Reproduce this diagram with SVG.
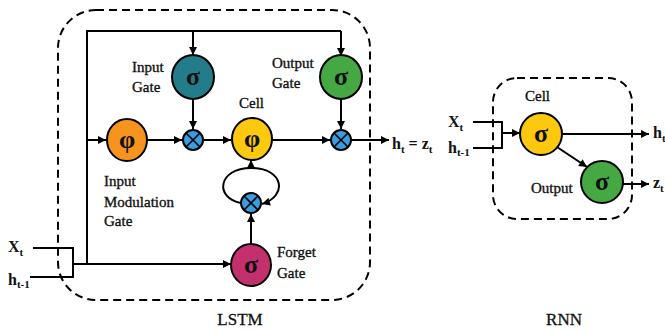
<svg xmlns="http://www.w3.org/2000/svg" width="665" height="330" viewBox="0 0 665 330">
<defs>
<marker id="arr" viewBox="0 0 10 10" refX="10" refY="5" markerWidth="9" markerHeight="8" markerUnits="userSpaceOnUse" orient="auto">
<path d="M0,0 L10,5 L0,10 z" fill="#000"/>
</marker>
<style>
.ln{fill:none;stroke:#000;stroke-width:2}
.ar{fill:none;stroke:#000;stroke-width:2;marker-end:url(#arr)}
.box{fill:none;stroke:#000;stroke-width:2;stroke-dasharray:8 5}
.nd{stroke:#000;stroke-width:2}
.sym{font-family:"Liberation Serif","Times New Roman",serif;font-size:26px;font-weight:bold;text-anchor:middle;fill:#111}
.lb{font-family:"Liberation Serif","Times New Roman",serif;font-size:15px;fill:#111;stroke:#111;stroke-width:0.35}
.var{font-family:"Liberation Serif","Times New Roman",serif;font-size:16px;font-weight:bold;fill:#111}
.sub{font-size:11px}
.cap{font-family:"Liberation Serif","Times New Roman",serif;font-size:17px;text-anchor:middle;fill:#111;stroke:#111;stroke-width:0.3}
.mx{fill:#3a9de0;stroke:#000;stroke-width:2}
.mxl{stroke:#000;stroke-width:1.6}
</style>
</defs>

<!-- frames -->
<rect class="box" x="58" y="10" width="312" height="290" rx="38" ry="38"/>
<rect class="box" x="493" y="78" width="139" height="141" rx="24" ry="24"/>

<g id="connectors">
<!-- LSTM inputs -->
<polyline class="ln" points="33,248 73,248 73,277 30,277"/>
<line class="ar" x1="73" y1="264" x2="231" y2="264"/>
<polyline class="ln" points="87,264 87,31 341,31"/>
<line class="ar" x1="193" y1="31" x2="193" y2="55"/>
<line class="ar" x1="341" y1="31" x2="341" y2="56"/>
<line class="ar" x1="87" y1="140" x2="106" y2="140"/>
<line class="ar" x1="147" y1="140" x2="182" y2="140"/>
<line class="ar" x1="204" y1="140" x2="231" y2="140"/>
<line class="ar" x1="272" y1="140" x2="330" y2="140"/>
<line class="ar" x1="193" y1="99" x2="193" y2="129"/>
<line class="ar" x1="341" y1="98" x2="341" y2="129"/>
<line class="ar" x1="352" y1="140" x2="389" y2="140"/>
<!-- forget loop -->
<line class="ar" x1="251" y1="244" x2="251" y2="214"/>
<path class="ln" d="M241,203 C214,198 218,168 251,168"/>
<line class="ar" x1="251" y1="169" x2="251" y2="160"/>
<path class="ar" d="M251,168 C284,168 288,196 262,204"/>
<!-- RNN -->
<polyline class="ln" points="473,122 502,122 502,148 473,148"/>
<line class="ar" x1="502" y1="133" x2="520" y2="133"/>
<line class="ar" x1="562" y1="134" x2="649" y2="134"/>
<line class="ar" x1="557" y1="147" x2="587" y2="167"/>
<line class="ar" x1="623" y1="184" x2="649" y2="184"/>
</g>

<g id="input-gate">
<ellipse class="nd" cx="193" cy="77" rx="21" ry="22" fill="#237c8a"/>
<text class="sym" x="193" y="85">σ</text>
<text class="lb" x="132" y="72">Input</text>
<text class="lb" x="132" y="92">Gate</text>
</g>
<g id="output-gate">
<ellipse class="nd" cx="341" cy="77" rx="21" ry="22" fill="#45a843"/>
<text class="sym" x="341" y="85">σ</text>
<text class="lb" x="272" y="68">Output</text>
<text class="lb" x="272" y="88">Gate</text>
</g>
<g id="input-modulation-gate">
<ellipse class="nd" cx="127" cy="140" rx="20" ry="21" fill="#f7941d"/>
<text class="sym" x="127" y="148">φ</text>
<text class="lb" x="104" y="186">Input</text>
<text class="lb" x="104" y="207">Modulation</text>
<text class="lb" x="104" y="226">Gate</text>
</g>
<g id="cell">
<ellipse class="nd" cx="252" cy="139" rx="20" ry="21" fill="#fcc90f"/>
<text class="sym" x="252" y="147">φ</text>
<text class="lb" x="239" y="108">Cell</text>
</g>
<g id="mult-input">
<circle class="mx" cx="193" cy="140" r="10"/>
<line class="mxl" x1="186" y1="133" x2="200" y2="147"/><line class="mxl" x1="200" y1="133" x2="186" y2="147"/>
</g>
<g id="mult-output">
<circle class="mx" cx="341" cy="140" r="10"/>
<line class="mxl" x1="334" y1="133" x2="348" y2="147"/><line class="mxl" x1="348" y1="133" x2="334" y2="147"/>
</g>
<g id="mult-forget">
<circle class="mx" cx="251" cy="203" r="10"/>
<line class="mxl" x1="244" y1="196" x2="258" y2="210"/><line class="mxl" x1="258" y1="196" x2="244" y2="210"/>
</g>
<g id="forget-gate">
<ellipse class="nd" cx="251" cy="265" rx="20" ry="21" fill="#c4306d"/>
<text class="sym" x="251" y="273">σ</text>
<text class="lb" x="277" y="257">Forget</text>
<text class="lb" x="277" y="278">Gate</text>
</g>
<g id="lstm-io">
<text class="var" x="8" y="252">X<tspan class="sub" dy="4">t</tspan></text>
<text class="var" x="8" y="285">h<tspan class="sub" dy="3">t-1</tspan></text>
<text class="var" x="392" y="149">h<tspan class="sub" dy="4">t</tspan><tspan dy="-4"> = z</tspan><tspan class="sub" dy="4">t</tspan></text>
<text class="cap" x="240" y="325">LSTM</text>
</g>

<g id="rnn-cell">
<ellipse class="nd" cx="541" cy="134" rx="21" ry="21" fill="#fcc90f"/>
<text class="sym" x="541" y="142">σ</text>
<text class="lb" x="525" y="101">Cell</text>
</g>
<g id="rnn-output">
<ellipse class="nd" cx="602" cy="182" rx="21" ry="21" fill="#45a843"/>
<text class="sym" x="602" y="190">σ</text>
<text class="lb" x="531" y="193">Output</text>
</g>
<g id="rnn-io">
<text class="var" x="448" y="127">X<tspan class="sub" dy="4">t</tspan></text>
<text class="var" x="448" y="153">h<tspan class="sub" dy="3">t-1</tspan></text>
<text class="var" x="653" y="138">h<tspan class="sub" dy="4">t</tspan></text>
<text class="var" x="653" y="188">z<tspan class="sub" dy="4">t</tspan></text>
<text class="cap" x="564" y="325">RNN</text>
</g>
</svg>
